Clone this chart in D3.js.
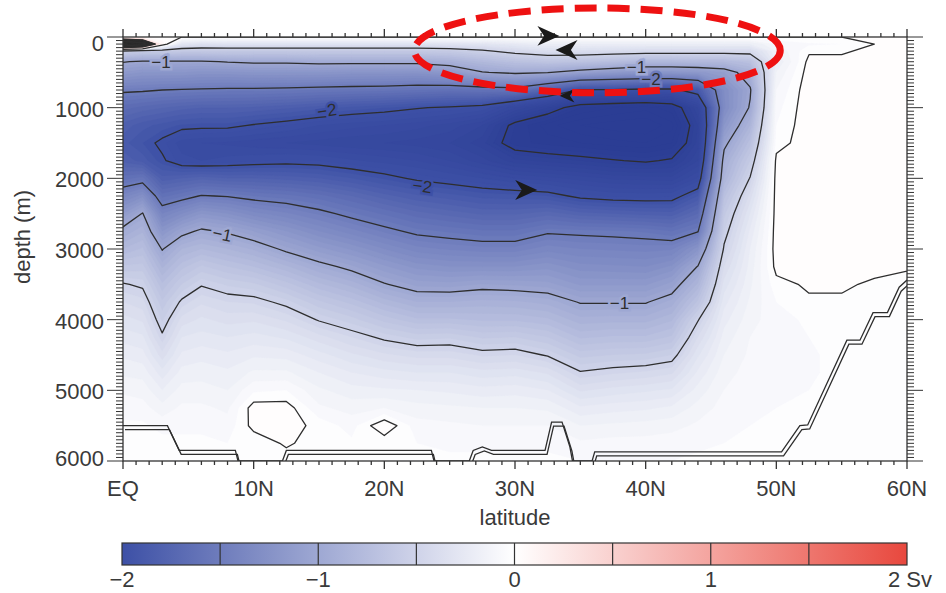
<!DOCTYPE html>
<html>
<head>
<meta charset="utf-8">
<script src="https://cdn.jsdelivr.net/npm/d3@7"></script>
<style>
  body { margin: 0; background: #fff; }
  svg text { font-family: "Liberation Sans", Arial, sans-serif; fill: #3a3a3a; }
</style>
</head>
<body>
<svg id="chart" width="946" height="593"></svg>
<script>
// Grid nodes: latitude (deg N) and depth (m)
var lats = [0, 1.5, 3, 4.5, 6, 8, 10, 12.5, 15, 17.5, 20, 22.5, 25, 27.5, 30, 32.5, 35, 37.5, 40, 42, 44, 46, 48, 50, 52.5, 55, 57.5, 60];
var depths = [0, 100, 200, 350, 500, 750, 1000, 1250, 1500, 1750, 2000, 2250, 2500, 2750, 3000, 3250, 3500, 3750, 4000, 4250, 4500, 4750, 5000, 5250, 5500, 5750, 6000];

// Overturning streamfunction (Sv), one column per latitude, surface to bottom
var psi = [
  [0, 1.6, -0.55, -0.99, -1.16, -1.47, -1.68, -1.82, -1.88, -1.82, -1.62, -1.38, -1.15, -0.95, -0.8, -0.64, -0.49, -0.4, -0.33, -0.27, -0.21, -0.16, -0.11, -0.07, -0.04, -0.03, -0.03],
  [0, 1.2, -0.6, -1.02, -1.2, -1.48, -1.72, -1.88, -1.95, -1.87, -1.58, -1.27, -0.99, -0.86, -0.74, -0.63, -0.52, -0.43, -0.36, -0.29, -0.23, -0.17, -0.12, -0.08, -0.04, -0.03, -0.03],
  [0, 0.1, -0.6, -1.02, -1.2, -1.5, -1.75, -1.92, -2.03, -1.98, -1.83, -1.62, -1.4, -1.2, -1.01, -0.86, -0.74, -0.64, -0.56, -0.48, -0.38, -0.28, -0.2, -0.13, -0.07, -0.03, -0.03],
  [0, -0.3, -0.62, -1.02, -1.2, -1.51, -1.78, -1.96, -2.13, -2.08, -1.8, -1.56, -1.3, -1.05, -0.85, -0.72, -0.6, -0.48, -0.38, -0.3, -0.24, -0.18, -0.13, -0.09, -0.06, -0.04, -0.03],
  [0, -0.35, -0.62, -1.02, -1.22, -1.52, -1.8, -1.97, -2.15, -2.1, -1.77, -1.49, -1.2, -0.97, -0.8, -0.64, -0.51, -0.41, -0.34, -0.28, -0.22, -0.17, -0.13, -0.09, -0.06, -0.04, -0.03],
  [0, -0.33, -0.62, -0.99, -1.22, -1.53, -1.8, -1.97, -2.16, -2.08, -1.8, -1.51, -1.25, -1.02, -0.85, -0.7, -0.56, -0.45, -0.37, -0.3, -0.24, -0.19, -0.15, -0.11, -0.08, -0.05, -0.03],
  [0, -0.33, -0.62, -0.97, -1.2, -1.53, -1.81, -2.01, -2.18, -2.06, -1.8, -1.55, -1.33, -1.1, -0.91, -0.75, -0.59, -0.46, -0.36, -0.28, -0.21, -0.14, -0.06, 0.03, 0.02, -0.04, -0.04],
  [0, -0.33, -0.62, -0.97, -1.2, -1.54, -1.84, -2.05, -2.2, -2.04, -1.82, -1.58, -1.39, -1.2, -1.03, -0.84, -0.68, -0.53, -0.41, -0.31, -0.22, -0.14, -0.05, 0.03, 0.03, 0.01, -0.03],
  [0, -0.33, -0.62, -0.95, -1.2, -1.56, -1.88, -2.1, -2.22, -2.05, -1.85, -1.63, -1.46, -1.3, -1.13, -0.95, -0.79, -0.64, -0.51, -0.38, -0.28, -0.2, -0.14, -0.09, -0.02, -0.03, -0.03],
  [0, -0.33, -0.62, -0.95, -1.22, -1.57, -1.92, -2.13, -2.24, -2.09, -1.9, -1.7, -1.54, -1.38, -1.21, -1.04, -0.87, -0.72, -0.58, -0.45, -0.34, -0.25, -0.18, -0.12, -0.07, -0.04, -0.03],
  [0, -0.33, -0.62, -0.95, -1.22, -1.58, -1.95, -2.15, -2.25, -2.12, -1.96, -1.78, -1.61, -1.46, -1.3, -1.14, -0.99, -0.82, -0.67, -0.52, -0.39, -0.28, -0.19, -0.1, 0.05, -0.04, -0.03],
  [0, -0.33, -0.62, -0.95, -1.23, -1.6, -1.99, -2.18, -2.27, -2.15, -2.02, -1.84, -1.68, -1.53, -1.38, -1.22, -1.07, -0.9, -0.74, -0.57, -0.42, -0.3, -0.2, -0.13, -0.08, -0.05, -0.04],
  [0, -0.32, -0.6, -0.9, -1.17, -1.62, -2.02, -2.22, -2.3, -2.2, -2.06, -1.88, -1.72, -1.56, -1.41, -1.25, -1.08, -0.9, -0.74, -0.56, -0.42, -0.3, -0.21, -0.14, -0.09, -0.06, -0.04],
  [0, -0.3, -0.53, -0.8, -1.01, -1.6, -2.06, -2.3, -2.38, -2.28, -2.1, -1.92, -1.76, -1.59, -1.43, -1.25, -1.05, -0.88, -0.76, -0.61, -0.46, -0.33, -0.23, -0.15, -0.1, -0.06, -0.04],
  [0, -0.25, -0.44, -0.72, -0.96, -1.58, -2.25, -2.55, -2.58, -2.38, -2.15, -1.93, -1.76, -1.59, -1.43, -1.25, -1.06, -0.89, -0.76, -0.6, -0.45, -0.32, -0.22, -0.15, -0.1, -0.06, -0.04],
  [0, -0.2, -0.38, -0.68, -0.99, -1.78, -2.4, -2.68, -2.62, -2.42, -2.18, -1.95, -1.72, -1.52, -1.37, -1.22, -1.08, -0.92, -0.79, -0.65, -0.51, -0.36, -0.25, -0.16, -0.1, -0.06, -0.04],
  [0, -0.2, -0.38, -0.7, -1.08, -2.02, -2.6, -2.75, -2.65, -2.45, -2.22, -2.03, -1.78, -1.53, -1.4, -1.28, -1.16, -1.01, -0.88, -0.76, -0.62, -0.49, -0.36, -0.24, -0.15, -0.09, -0.05],
  [0, -0.2, -0.4, -0.75, -1.15, -2.02, -2.65, -2.78, -2.68, -2.49, -2.26, -2.06, -1.8, -1.54, -1.41, -1.29, -1.16, -1.01, -0.87, -0.74, -0.6, -0.46, -0.33, -0.22, -0.14, -0.08, -0.05],
  [0, -0.2, -0.42, -0.82, -1.2, -2.05, -2.68, -2.8, -2.7, -2.52, -2.27, -2.07, -1.82, -1.56, -1.42, -1.3, -1.16, -1.01, -0.87, -0.74, -0.59, -0.44, -0.31, -0.21, -0.13, -0.08, -0.05],
  [0, -0.2, -0.42, -0.82, -1.2, -2.05, -2.62, -2.72, -2.65, -2.48, -2.28, -2.06, -1.83, -1.6, -1.41, -1.24, -1.08, -0.93, -0.81, -0.69, -0.55, -0.41, -0.29, -0.19, -0.12, -0.07, -0.05],
  [0, -0.2, -0.42, -0.8, -1.17, -1.9, -2.3, -2.4, -2.38, -2.3, -2.14, -1.9, -1.7, -1.51, -1.22, -0.99, -0.84, -0.69, -0.51, -0.4, -0.31, -0.24, -0.18, -0.13, -0.09, -0.06, -0.04],
  [0, -0.2, -0.42, -0.8, -1.1, -1.3, -1.32, -1.2, -1.05, -0.92, -0.85, -0.72, -0.62, -0.55, -0.48, -0.4, -0.33, -0.27, -0.22, -0.18, -0.15, -0.12, -0.1, -0.08, -0.06, -0.05, -0.04],
  [0, -0.2, -0.42, -0.72, -0.9, -1.02, -0.98, -0.85, -0.72, -0.6, -0.49, -0.38, -0.3, -0.24, -0.2, -0.18, -0.16, -0.14, -0.12, -0.1, -0.09, -0.08, -0.07, -0.06, -0.05, -0.04, -0.04],
  [0, -0.1, -0.15, -0.2, -0.15, -0.1, -0.07, -0.05, -0.03, 0.02, 0.03, 0.03, 0.03, 0.03, 0.03, 0.02, -0.02, -0.05, -0.07, -0.08, -0.08, -0.07, -0.06, -0.05, -0.04, -0.03, -0.03],
  [0, -0.06, -0.01, 0.02, 0.03, 0.04, 0.04, 0.04, 0.04, 0.04, 0.04, 0.04, 0.04, 0.04, 0.03, 0.02, 0.01, -0.01, -0.04, -0.05, -0.06, -0.06, -0.05, -0.04, -0.04, -0.03, -0.03],
  [0, -0.05, -0.01, 0.02, 0.03, 0.04, 0.04, 0.04, 0.04, 0.04, 0.04, 0.04, 0.04, 0.04, 0.03, 0.02, 0.01, -0.01, -0.04, -0.05, -0.03, -0.03, -0.03, -0.03, -0.03, -0.03, -0.03],
  [0, 0, 0.02, 0.03, 0.03, 0.04, 0.04, 0.04, 0.04, 0.04, 0.04, 0.04, 0.03, 0.03, 0.03, 0.02, -0.01, -0.04, -0.03, -0.03, -0.03, -0.03, -0.03, -0.03, -0.03, -0.03, -0.03],
  [0, 0.01, 0.02, 0.03, 0.03, 0.04, 0.04, 0.04, 0.04, 0.04, 0.03, 0.03, 0.03, 0.03, 0.02, 0.01, -0.03, -0.03, -0.03, -0.03, -0.03, -0.03, -0.03, -0.03, -0.03, -0.03, -0.03]
];

var levels = [-2.5, -2, -1.5, -1, -0.5, 0, 0.5, 1, 1.5];

// Sea floor outline
var floorLat =   [0, 3.4, 4.3, 8.6, 8.8, 12.2, 12.5, 23.6, 23.8, 26.5, 26.8, 27.5, 28.2, 29, 32.3, 32.8, 33.6, 34.2, 34.4, 35.9, 36.1, 50.4, 51.8, 52.4, 55.4, 56.4, 57.4, 58.5, 59.4, 60];
var floorDepth = [5500, 5500, 5850, 5850, 6000, 6000, 5850, 5850, 6000, 6000, 5850, 5800, 5850, 5850, 5850, 5450, 5450, 5800, 6000, 6000, 5870, 5870, 5500, 5490, 4290, 4290, 3900, 3900, 3540, 3440];

// Axis ticks
var latTicks = [0, 10, 20, 30, 40, 50, 60];
var latLabels = ["EQ", "10N", "20N", "30N", "40N", "50N", "60N"];
var depthTicks = [0, 1000, 2000, 3000, 4000, 5000, 6000];
var cbTicks = [-2, -1, 0, 1];
var cbLabels = ["\u22122", "\u22121", "0", "1"];

// Contour labels (text, position, angle, level under them)
var labText  = ["\u22121", "\u22122", "\u22122", "\u22121", "\u22121", "\u22121", "\u22122"];
var labLat   = [2.9, 15.6, 22.9, 7.6, 38.0, 39.3, 40.4];
var labDepth = [350, 1040, 2110, 2790, 3760, 420, 590];
var labAngle = [0, -8, 8, 12, 0, 0, 0];
var labLevel = [-1, -2, -2, -1, -1, -1, -1.5];

// Circulation arrows
var arrLat   = [33.4, 33.1, 33.4, 31.7];
var arrDepth = [-15, 184, 830, 2165];
var arrAngle = [0, 180, 180, 0];
var arrSize  = [1.1, 1.1, 0.75, 1.1];

var svg = d3.select("#chart");
var W = 946, H = 593;
svg.append("rect").attr("width", W).attr("height", H).attr("fill", "#fff");

var x = d3.scaleLinear().domain([0, 60]).range([123, 907]);
var y = d3.scaleLinear().domain([0, 6000]).range([37, 461]);

var color = d3.scaleLinear()
  .domain([-2.6, -2, 0, 2])
  .range(["#2b3d94", "#3d50a6", "#ffffff", "#e8483e"])
  .clamp(true);

// grid index -> lat / depth (sample i sits at i + 0.5)
var ix = d3.scaleLinear().domain(lats.map(function(d, i) { return i + 0.5; })).range(lats);
var iy = d3.scaleLinear().domain(depths.map(function(d, i) { return i + 0.5; })).range(depths);

var nx = lats.length, ny = depths.length;
var values = new Array(nx * ny);
for (var j = 0; j < ny; j++) {
  for (var i = 0; i < nx; i++) values[j * nx + i] = psi[i][j];
}

function ringPath(ring) {
  return "M" + ring.map(function(p) {
    return x(ix(p[0])).toFixed(1) + "," + y(iy(p[1])).toFixed(1);
  }).join("L") + "Z";
}
function geoPath(g) {
  return g.coordinates.map(function(poly) { return poly.map(ringPath).join(""); }).join("");
}

svg.append("clipPath").attr("id", "plotclip")
  .append("rect").attr("x", 123).attr("y", 37).attr("width", 784).attr("height", 424);

var plot = svg.append("g").attr("clip-path", "url(#plotclip)");

// shaded field
var bands = d3.range(-60, 41).map(function(k) { return k * 0.05; });
var fills = d3.contours().size([nx, ny]).thresholds(bands)(values);
plot.append("g").selectAll("path").data(fills).enter()
  .append("path")
  .attr("d", geoPath)
  .attr("fill", function(d) { return d.value > 0.4 ? "#2e2e2e" : color(d.value + 0.025); })
  .attr("fill-rule", "evenodd")
  .attr("stroke", function(d) { return d.value > 0.4 ? "#2e2e2e" : color(d.value + 0.025); })
  .attr("stroke-width", 0.3);

// contour lines
var lines = d3.contours().size([nx, ny]).thresholds(levels)(values);
plot.append("g").selectAll("path").data(lines).enter()
  .append("path")
  .attr("d", geoPath)
  .attr("fill", "none")
  .attr("stroke", "#2e2e2e")
  .attr("stroke-width", 1.3)
  .attr("stroke-linejoin", "round");

// sea floor (double line)
var floorLine = d3.line()
  .x(function(d, k) { return x(floorLat[k]); })
  .y(function(d, k) { return y(floorDepth[k]); });
[[0, 0], [2, 4]].forEach(function(off) {
  plot.append("path")
    .attr("d", floorLine(floorLat))
    .attr("transform", "translate(" + off[0] + "," + off[1] + ")")
    .attr("fill", "none")
    .attr("stroke", "#2e2e2e")
    .attr("stroke-width", 1.3);
});

// contour labels, with a halo in the local shade so the line breaks
svg.append("g").selectAll("text").data(labText).enter()
  .append("text")
  .attr("transform", function(d, k) {
    return "translate(" + x(labLat[k]) + "," + y(labDepth[k]) + ") rotate(" + labAngle[k] + ")";
  })
  .attr("dy", "0.35em")
  .attr("text-anchor", "middle")
  .attr("font-size", 17)
  .style("fill", "#2e2e2e")
  .style("stroke", function(d, k) { return color(labLevel[k]); })
  .style("stroke-width", 5)
  .style("paint-order", "stroke")
  .text(function(d) { return d; });

// frame and ticks
var axis = svg.append("g").attr("stroke", "#333").attr("stroke-width", 1.3);
axis.append("rect").attr("x", 123).attr("y", 37).attr("width", 784).attr("height", 424).attr("fill", "none");

d3.range(0, 61, 1).forEach(function(v) {
  var len = v % 10 === 0 ? 8 : 4;
  axis.append("line").attr("x1", x(v)).attr("x2", x(v)).attr("y1", 461).attr("y2", 461 + len);
  axis.append("line").attr("x1", x(v)).attr("x2", x(v)).attr("y1", 37).attr("y2", 37 - len);
});
d3.range(0, 6001, 50).forEach(function(v) {
  var len = v % 1000 === 0 ? 16 : 7;
  axis.append("line").attr("y1", y(v)).attr("y2", y(v)).attr("x1", 123).attr("x2", 123 - len).attr("stroke-width", 1);
  axis.append("line").attr("y1", y(v)).attr("y2", y(v)).attr("x1", 907).attr("x2", 907 + len).attr("stroke-width", 1);
});

svg.append("g").selectAll("text").data(latTicks).enter()
  .append("text")
  .attr("x", function(d) { return x(d); })
  .attr("y", 496)
  .attr("text-anchor", "middle")
  .attr("font-size", 22)
  .text(function(d, k) { return latLabels[k]; });

svg.append("g").selectAll("text").data(depthTicks).enter()
  .append("text")
  .attr("x", 104)
  .attr("y", function(d) { return y(d) + (d === 0 ? 6 : d === 6000 ? -3 : 1); })
  .attr("dy", "0.36em")
  .attr("text-anchor", "end")
  .attr("font-size", 22)
  .text(function(d) { return d; });

svg.append("text").attr("x", 515).attr("y", 525).attr("text-anchor", "middle")
  .attr("font-size", 22).text("latitude");
svg.append("text").attr("transform", "translate(30,237) rotate(-90)").attr("text-anchor", "middle")
  .attr("font-size", 22).text("depth (m)");

// arrows
svg.append("g").selectAll("path").data(arrLat).enter()
  .append("path")
  .attr("d", "M0,0L-20,-9L-14,0L-20,9Z")
  .attr("transform", function(d, k) {
    return "translate(" + x(arrLat[k]) + "," + y(arrDepth[k]) + ") rotate(" + arrAngle[k] + ") scale(" + arrSize[k] + ")";
  })
  .attr("fill", "#1a1a1a");

// highlight ellipse
svg.append("ellipse")
  .attr("cx", x(36.3)).attr("cy", y(190))
  .attr("rx", x(50.3) - x(36.3)).attr("ry", y(190) - y(-410))
  .attr("fill", "none")
  .attr("stroke", "#ee1111")
  .attr("stroke-width", 7)
  .attr("stroke-dasharray", "22 11");

// colour bar
var cb = d3.scaleLinear().domain([-2, 2]).range([122, 907]);
var grad = svg.append("defs").append("linearGradient").attr("id", "cbgrad");
d3.range(-2, 2.01, 0.25).forEach(function(v) {
  grad.append("stop").attr("offset", ((v + 2) / 4 * 100) + "%").attr("stop-color", color(v));
});
svg.append("rect").attr("x", 122).attr("y", 543).attr("width", 785).attr("height", 22)
  .attr("fill", "url(#cbgrad)").attr("stroke", "#333").attr("stroke-width", 1.2);
d3.range(-1.5, 1.6, 0.5).forEach(function(v) {
  svg.append("line").attr("x1", cb(v)).attr("x2", cb(v)).attr("y1", 543).attr("y2", 565)
    .attr("stroke", "#333").attr("stroke-width", 1.2);
});
svg.append("g").selectAll("text").data(cbTicks).enter()
  .append("text")
  .attr("x", function(d) { return cb(d); })
  .attr("y", 587)
  .attr("text-anchor", "middle")
  .attr("font-size", 22)
  .text(function(d, k) { return cbLabels[k]; });
svg.append("text").attr("x", 888).attr("y", 587).attr("font-size", 22).text("2 Sv");
</script>
</body>
</html>
